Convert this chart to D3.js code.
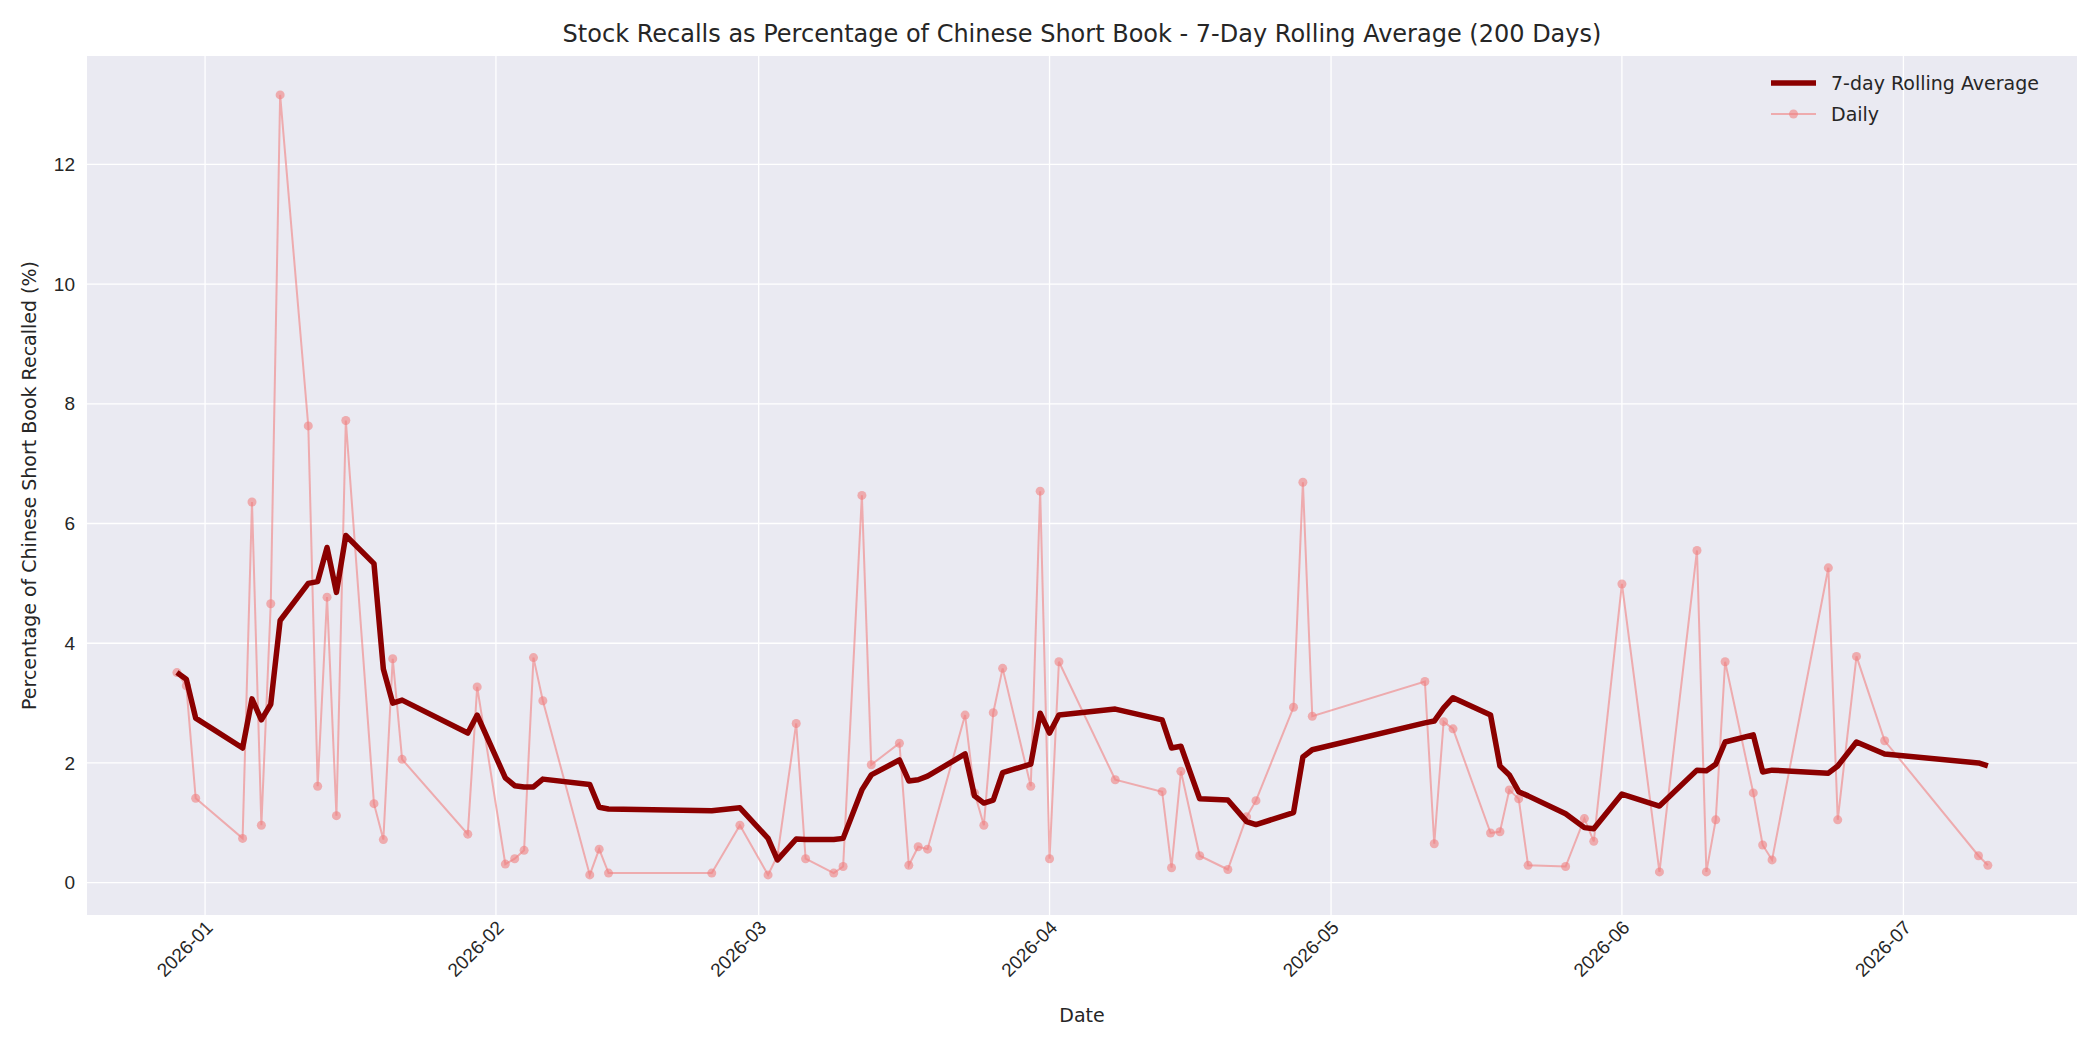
<!DOCTYPE html>
<html><head><meta charset="utf-8">
<script src="https://cdn.jsdelivr.net/npm/d3@7"></script>
<style>body{margin:0;background:#fff}svg{font-family:"DejaVu Sans",sans-serif}</style>
</head><body><svg id="c" width="2100" height="1050"></svg>
<script>
const dates=["2025-12-29","2025-12-30","2025-12-31","2026-01-05","2026-01-06","2026-01-07","2026-01-08","2026-01-09","2026-01-12","2026-01-13","2026-01-14","2026-01-15","2026-01-16","2026-01-19","2026-01-20","2026-01-21","2026-01-22","2026-01-29","2026-01-30","2026-02-02","2026-02-03","2026-02-04","2026-02-05","2026-02-06","2026-02-11","2026-02-12","2026-02-13","2026-02-24","2026-02-27","2026-03-02","2026-03-03","2026-03-05","2026-03-06","2026-03-09","2026-03-10","2026-03-12","2026-03-13","2026-03-16","2026-03-17","2026-03-18","2026-03-19","2026-03-23","2026-03-24","2026-03-25","2026-03-26","2026-03-27","2026-03-30","2026-03-31","2026-04-01","2026-04-02","2026-04-08","2026-04-13","2026-04-14","2026-04-15","2026-04-17","2026-04-20","2026-04-22","2026-04-23","2026-04-27","2026-04-28","2026-04-29","2026-05-11","2026-05-12","2026-05-13","2026-05-14","2026-05-18","2026-05-19","2026-05-20","2026-05-21","2026-05-22","2026-05-26","2026-05-28","2026-05-29","2026-06-01","2026-06-05","2026-06-09","2026-06-10","2026-06-11","2026-06-12","2026-06-15","2026-06-16","2026-06-17","2026-06-23","2026-06-24","2026-06-26","2026-06-29","2026-07-09","2026-07-10"];
const daily=[3.51,3.29,1.41,0.74,6.36,0.96,4.66,13.16,7.63,1.61,4.77,1.12,7.72,1.32,0.72,3.74,2.06,0.81,3.27,0.31,0.40,0.54,3.76,3.04,0.13,0.56,0.16,0.16,0.96,0.13,0.45,2.66,0.40,0.16,0.27,6.47,1.97,2.33,0.29,0.60,0.56,2.80,1.50,0.96,2.84,3.58,1.61,6.54,0.40,3.69,1.72,1.52,0.25,1.86,0.45,0.22,1.10,1.37,2.93,6.69,2.78,3.36,0.65,2.69,2.57,0.83,0.85,1.55,1.40,0.29,0.27,1.07,0.69,4.99,0.18,5.55,0.18,1.05,3.69,1.50,0.63,0.38,5.26,1.05,3.78,2.37,0.45,0.29];
const rolling=[3.51,3.40,2.75,2.25,3.07,2.72,2.98,4.38,5.00,5.03,5.60,4.85,5.80,5.33,3.57,3.00,3.05,2.50,2.80,1.75,1.62,1.60,1.60,1.73,1.64,1.26,1.23,1.20,1.25,0.74,0.38,0.73,0.72,0.72,0.74,1.55,1.80,2.05,1.70,1.72,1.78,2.15,1.45,1.33,1.38,1.84,1.98,2.83,2.50,2.80,2.90,2.72,2.25,2.28,1.40,1.38,1.02,0.97,1.17,2.10,2.22,2.67,2.70,2.92,3.09,2.80,1.95,1.80,1.52,1.45,1.15,0.92,0.90,1.48,1.28,1.88,1.87,1.98,2.35,2.47,1.85,1.88,1.83,1.95,2.35,2.15,2.00,1.95];
const xTicks=["2026-01","2026-02","2026-03","2026-04","2026-05","2026-06","2026-07"];
const yTicks=[0,2,4,6,8,10,12];

const P=d3.timeParse("%Y-%m-%d"),PM=d3.timeParse("%Y-%m");
const data=dates.map((d,i)=>({t:P(d),d:daily[i],r:rolling[i]}));
const svg=d3.select("#c");
const L=87,R=2077,T=56,B=915;
const x=d3.scaleTime().domain([new Date(2025,11,19,10),new Date(2026,6,19,12)]).range([L,R]);
const y=d3.scaleLinear().domain([-0.54,13.81]).range([B,T]);
svg.append("rect").attr("x",L).attr("y",T).attr("width",R-L).attr("height",B-T).attr("fill","#eaeaf2");
const xt=xTicks.map(s=>PM(s));
svg.append("g").selectAll("line").data(xt).join("line").attr("x1",d=>x(d)).attr("x2",d=>x(d)).attr("y1",T).attr("y2",B).attr("stroke","#fff").attr("stroke-width",1.3);
svg.append("g").selectAll("line").data(yTicks).join("line").attr("y1",d=>y(d)).attr("y2",d=>y(d)).attr("x1",L).attr("x2",R).attr("stroke","#fff").attr("stroke-width",1.3);
const gx=svg.append("g").attr("transform",`translate(0,${B})`).call(d3.axisBottom(x).tickValues(xt).tickFormat(d3.timeFormat("%Y-%m")).tickSize(0).tickPadding(10));
gx.select(".domain").remove();
gx.selectAll("text").attr("font-size",19).attr("fill","#262626").attr("text-anchor","end").attr("transform","rotate(-45)").attr("dx","-0.2em").attr("dy","0.3em");
const gy=svg.append("g").attr("transform",`translate(${L},0)`).call(d3.axisLeft(y).tickValues(yTicks).tickSize(0).tickPadding(12));
gy.select(".domain").remove();
gy.selectAll("text").attr("font-size",19).attr("fill","#262626");
svg.append("path").datum(data).attr("fill","none").attr("stroke","#f08080").attr("stroke-opacity",0.6).attr("stroke-width",2)
 .attr("d",d3.line().x(d=>x(d.t)).y(d=>y(d.d)));
svg.append("g").selectAll("circle").data(data).join("circle").attr("cx",d=>x(d.t)).attr("cy",d=>y(d.d)).attr("r",4.5).attr("fill","#f08080").attr("fill-opacity",0.6);
svg.append("path").datum(data).attr("fill","none").attr("stroke","#8b0000").attr("stroke-width",5.5).attr("stroke-linejoin","round")
 .attr("d",d3.line().x(d=>x(d.t)).y(d=>y(d.r)));
svg.append("text").attr("x",(L+R)/2).attr("y",42).attr("text-anchor","middle").attr("font-size",24).attr("fill","#262626").text("Stock Recalls as Percentage of Chinese Short Book - 7-Day Rolling Average (200 Days)");
svg.append("text").attr("x",(L+R)/2).attr("y",1022).attr("text-anchor","middle").attr("font-size",19).attr("fill","#262626").text("Date");
svg.append("text").attr("transform",`translate(36,${(T+B)/2}) rotate(-90)`).attr("text-anchor","middle").attr("font-size",19).attr("fill","#262626").text("Percentage of Chinese Short Book Recalled (%)");
const lg=svg.append("g");
lg.append("line").attr("x1",1771).attr("x2",1816).attr("y1",83).attr("y2",83).attr("stroke","#8b0000").attr("stroke-width",5.5);
lg.append("text").attr("x",1831).attr("y",90).attr("font-size",19).attr("fill","#262626").text("7-day Rolling Average");
lg.append("line").attr("x1",1771).attr("x2",1816).attr("y1",114).attr("y2",114).attr("stroke","#f08080").attr("stroke-opacity",0.6).attr("stroke-width",2);
lg.append("circle").attr("cx",1793.5).attr("cy",114).attr("r",4.5).attr("fill","#f08080").attr("fill-opacity",0.6);
lg.append("text").attr("x",1831).attr("y",121).attr("font-size",19).attr("fill","#262626").text("Daily");
</script></body></html>
